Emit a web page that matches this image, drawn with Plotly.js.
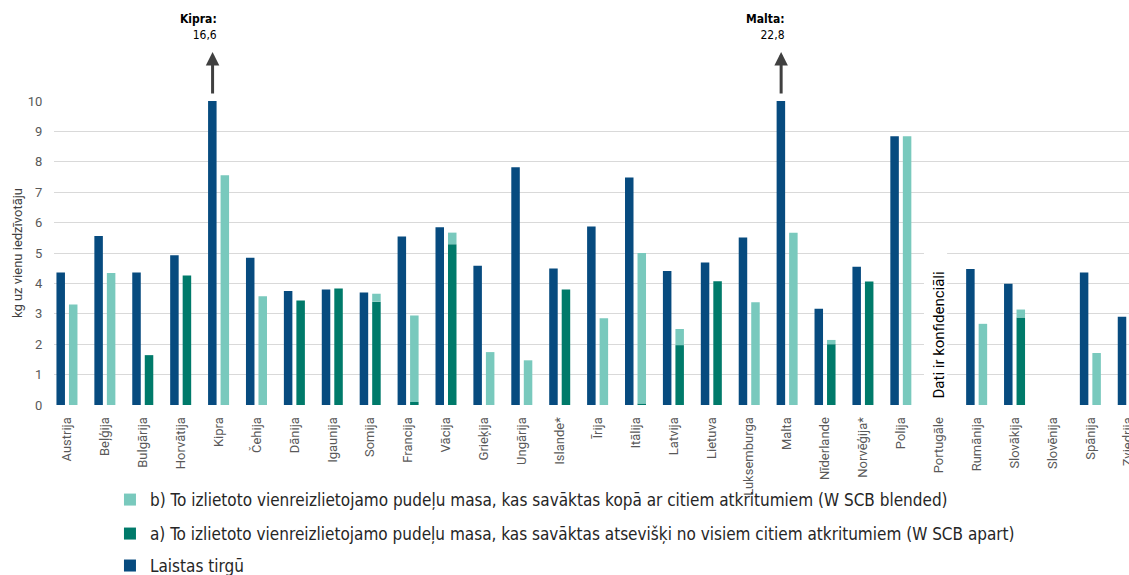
<!DOCTYPE html>
<html><head><meta charset="utf-8">
<script src="https://cdn.plot.ly/plotly-3.0.1.min.js"></script>
<style>html,body{margin:0;padding:0;overflow:hidden;background:#fff;width:1129px;height:575px}#chart{width:1160px;height:575px}</style>
</head><body><div id="chart"></div><script>
const countries = ["Austrija","Beļģija","Bulgārija","Horvātija","Kipra","Čehija","Dānija","Igaunija","Somija","Francija","Vācija","Grieķija","Ungārija","Islande*","Īrija","Itālija","Latvija","Lietuva","Luksemburga","Malta","Nīderlande","Norvēģija*","Polija","Portugāle","Rumānija","Slovākija","Slovēnija","Spānija","Zviedrija"];
const laistasTirgu = [4.36,5.56,4.36,4.93,16.6,4.84,3.75,3.80,3.70,5.54,5.85,4.58,7.82,4.49,5.87,7.48,4.41,4.69,5.51,22.8,3.17,4.55,8.84,null,4.47,3.99,null,4.36,2.90];
const atseviski = [null,null,1.64,4.26,null,null,3.44,3.83,3.40,0.10,5.29,null,null,3.80,null,0.05,1.97,4.07,null,null,2.00,4.06,null,null,null,2.88,null,null,null];
const kopa = [3.31,4.34,null,null,7.56,3.58,null,null,0.26,2.84,0.38,1.74,1.47,null,2.85,4.95,0.53,null,3.38,5.67,0.14,null,8.84,null,2.67,0.26,null,1.71,null];
const seriesNames = ["Laistas tirgū","a) To izlietoto vienreizlietojamo pudeļu masa, kas savāktas atsevišķi no visiem citiem atkritumiem (W SCB apart)","b) To izlietoto vienreizlietojamo pudeļu masa, kas savāktas kopā ar citiem atkritumiem (W SCB blended)"];
const yTitle = "kg uz vienu iedzīvotāju";
const offScale = [{name:"Kipra",label:"16,6"},{name:"Malta",label:"22,8"}];
const confidentialCountry = "Portugāle";
const confidentialText = "Dati ir konfidenciāli";

const cBlue = "#074b7f", cGreen = "#007a6a", cTeal = "#79c9bd";
const narrow = "'Liberation Sans Narrow','DejaVu Sans Condensed','Arial Narrow',sans-serif";
const sans = "Roboto, 'Liberation Sans', sans-serif";
const tickFont = {family:sans, size:13, color:"#595959"};

const traces = [
  {type:"bar", x:countries, y:laistasTirgu, name:seriesNames[0], offsetgroup:"1", marker:{color:cBlue}, legend:"legend3", hoverinfo:"skip"},
  {type:"bar", x:countries, y:atseviski, name:seriesNames[1], offsetgroup:"2", marker:{color:cGreen}, legend:"legend2", hoverinfo:"skip"},
  {type:"bar", x:countries, y:kopa, base:atseviski.map(v=>v||0), name:seriesNames[2], offsetgroup:"2", marker:{color:cTeal}, legend:"legend", hoverinfo:"skip"}
];

const annotations = [];
offScale.forEach(o => {
  annotations.push({x:o.name, xref:"x", xshift:-6, y:1.161, yref:"paper", text:"", showarrow:true, ax:0, ay:43,
    arrowhead:2, arrowsize:0.9, arrowwidth:3, arrowcolor:"#404040", standoff:0, startstandoff:0});
  annotations.push({x:o.name, xref:"x", y:1.243, yref:"paper", xanchor:"right", yanchor:"middle", align:"right",
    text:"<b>"+o.name+":</b><br>"+o.label, showarrow:false, font:{family:narrow, size:12, color:"#000"}});
});
annotations.push({x:confidentialCountry, xref:"x", xanchor:"center", y:0.231, yref:"paper", yanchor:"middle", text:confidentialText, textangle:-90,
  showarrow:false, font:{family:sans, size:15, color:"#000"}});
annotations.push({x:-0.0337, xref:"paper", xanchor:"center", y:0.5, yref:"paper", yanchor:"middle", text:yTitle, textangle:-90,
  showarrow:false, font:{family:sans, size:13, color:"#404040"}});

const ci = countries.indexOf(confidentialCountry);
const shapes = [{type:"rect", xref:"x", yref:"paper", x0:ci-0.39, x1:ci+0.22, y0:-0.02, y1:0.599, fillcolor:"#fff", line:{width:0}, layer:"above"}];

const legendBase = {x:0.0948, xref:"container", yref:"container", xanchor:"left", yanchor:"middle", bgcolor:"rgba(0,0,0,0)", font:{family:narrow, size:17, color:"#262626"}};

const layout = {
  width:1160, height:575,
  margin:{l:54, r:9, t:101, b:170, autoexpand:false},
  paper_bgcolor:"#fff", plot_bgcolor:"#fff",
  barmode:"group", bargap:0.34, bargroupgap:0.32,
  showlegend:true,
  legend:Object.assign({}, legendBase, {y:0.1304}),
  legend2:Object.assign({}, legendBase, {y:0.0713}),
  legend3:Object.assign({}, legendBase, {y:0.0157}),
  xaxis:{type:"category", range:[-0.342, 28.6], tickangle:-90, tickfont:tickFont, ticks:"outside", ticklen:6, tickcolor:"rgba(0,0,0,0)",
    showgrid:false, zeroline:false, showline:false, fixedrange:true, automargin:false},
  yaxis:{range:[0,10], dtick:1, tickfont:tickFont, ticks:"outside", ticklen:8, tickcolor:"rgba(0,0,0,0)",
    gridcolor:"#d9d9d9", gridwidth:1, zeroline:false, showline:false, fixedrange:true, automargin:false},
  annotations:annotations,
  shapes:shapes
};
Plotly.newPlot("chart", traces, layout, {displayModeBar:false, staticPlot:true});
</script></body></html>
